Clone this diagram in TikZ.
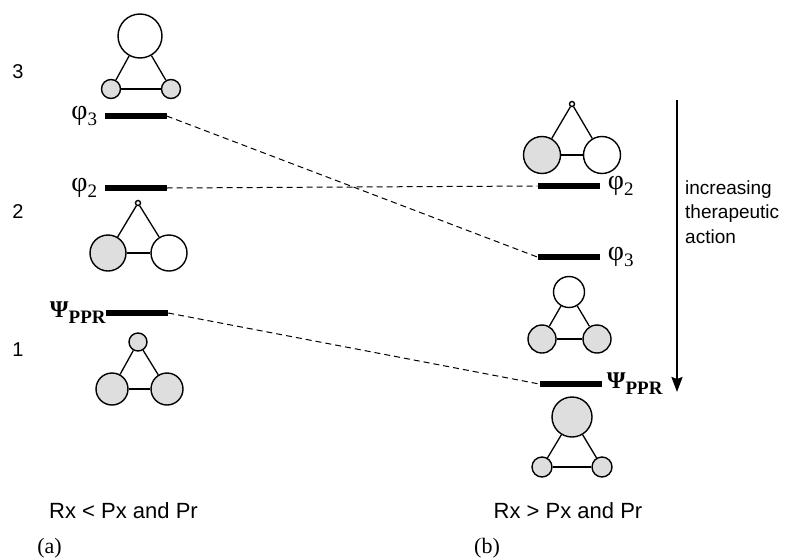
\documentclass[tikz,border=0pt]{standalone}
\usepackage{fontspec}
\setmainfont{Liberation Serif}
\setsansfont{Liberation Sans}
\usetikzlibrary{arrows.meta,positioning}
\definecolor{atomgray}{gray}{0.87}
\newcommand{\phiorb}[1]{{\fontsize{28}{28}\selectfont φ}\raisebox{-6pt}{\fontsize{19}{19}\selectfont #1}}
\newcommand{\psippr}{{\fontsize{24}{24}\selectfont\bfseries Ψ}\raisebox{-6pt}{\fontsize{19}{19}\selectfont\bfseries PPR}}
\begin{document}
\begin{tikzpicture}[x=1pt,y=-1pt,
  gorb/.style={circle, draw, line width=1.4pt, fill=atomgray, inner sep=0pt, minimum size=#1},
  worb/.style={circle, draw, line width=1.4pt, fill=white, inner sep=0pt, minimum size=#1},
  bond/.style={line width=1.3pt},
  lvl/.style={fill=black, inner sep=0pt, minimum width=62pt, minimum height=6.5pt},
  corr/.style={line width=1pt, dash pattern=on 6pt off 4pt},
  lab/.style={font=\sffamily\fontsize{20}{20}\selectfont, inner sep=0pt}]
\useasboundingbox (0,0) rectangle (799,557);

% (a) left column
\node[worb=44] (a3t) at (140,36){};
\node[gorb=19] (a3l) at (111,89){};
\node[gorb=19] (a3r) at (171,89){};

\draw[bond](a3t) -- (a3l);
\draw[bond](a3t) -- (a3r);
\draw[bond](a3l) -- (a3r);

\node[worb=5] (a2t) at (138,203){};
\node[gorb=36] (a2l) at (108,253){};
\node[worb=36] (a2r) at (169,253){};

\draw[bond](a2t) -- (a2l);
\draw[bond](a2t) -- (a2r);
\draw[bond](a2l) -- (a2r);

\node[gorb=18] (a1t) at (138,342){};
\node[gorb=32] (a1l) at (112,389){};
\node[gorb=32] (a1r) at (167,389){};

\draw[bond](a1t) -- (a1l);
\draw[bond](a1t) -- (a1r);
\draw[bond](a1l) -- (a1r);

\node[lvl] (a3) at (135.5,116){};
\node[lvl] (a2) at (135.5,188){};
\node[lvl] (a1) at (137,313){};

\node[inner sep=0pt, left=7pt of a3] (a3lab){\phiorb{3}};
\node[inner sep=0pt, left=7pt of a2] (a2lab){\phiorb{2}};
\node[inner sep=0pt, left=0pt of a1] (a1lab){\psippr};

\node[lab] (n3) at (18,72){3};
\node[lab] (n2) at (18,212){2};
\node[lab] (n1) at (18,350){1};

% (b) right column
\node[worb=5] (b2t) at (572,104){};
\node[gorb=37] (b2l) at (542,155){};
\node[worb=37] (b2r) at (602,155){};

\draw[bond](b2t) -- (b2l);
\draw[bond](b2t) -- (b2r);
\draw[bond](b2l) -- (b2r);

\node[worb=31] (b3t) at (569,292){};
\node[gorb=28] (b3l) at (542,339){};
\node[gorb=28] (b3r) at (597,339){};

\draw[bond](b3t) -- (b3l);
\draw[bond](b3t) -- (b3r);
\draw[bond](b3l) -- (b3r);

\node[gorb=40] (b1t) at (572,417){};
\node[gorb=20] (b1l) at (542,467){};
\node[gorb=20] (b1r) at (602,467){};

\draw[bond](b1t) -- (b1l);
\draw[bond](b1t) -- (b1r);
\draw[bond](b1l) -- (b1r);

\node[lvl] (b2) at (568.5,186){};
\node[lvl] (b3) at (568.5,257){};
\node[lvl] (b1) at (570.5,384){};

\node[inner sep=0pt, right=8pt of b2] (b2lab){\phiorb{2}};
\node[inner sep=0pt, right=8pt of b3] (b3lab){\phiorb{3}};
\node[inner sep=0pt, right=5pt of b1] (b1lab){\psippr};

% correlation lines
\draw[corr](a3.east) -- (b3.west);
\draw[corr](a2.east) -- (b2.west);
\draw[corr](a1.east) -- (b1.west);

% arrow
\coordinate (arrtop) at (677,100);
\coordinate (arrbot) at (677,392);
\draw[line width=2pt, -{Stealth[length=15pt,width=11pt,inset=2pt]}](arrtop) -- (arrbot);
\node[lab, font=\sffamily\fontsize{19}{24.5}\selectfont, align=left, anchor=west] (therap) at (685,212){increasing\\therapeutic\\action};

% captions
\node[lab, font=\sffamily\fontsize{22}{22}\selectfont] (capa) at (123.5,511){Rx < Px and Pr};
\node[lab, font=\sffamily\fontsize{22}{22}\selectfont] (capb) at (568,511){Rx > Px and Pr};
\node[inner sep=0pt, font=\fontsize{22}{22}\selectfont] (suba) at (49.5,548){(a)};
\node[inner sep=0pt, font=\fontsize{22}{22}\selectfont] (subb) at (487,548){(b)};

\end{tikzpicture}
\end{document}
